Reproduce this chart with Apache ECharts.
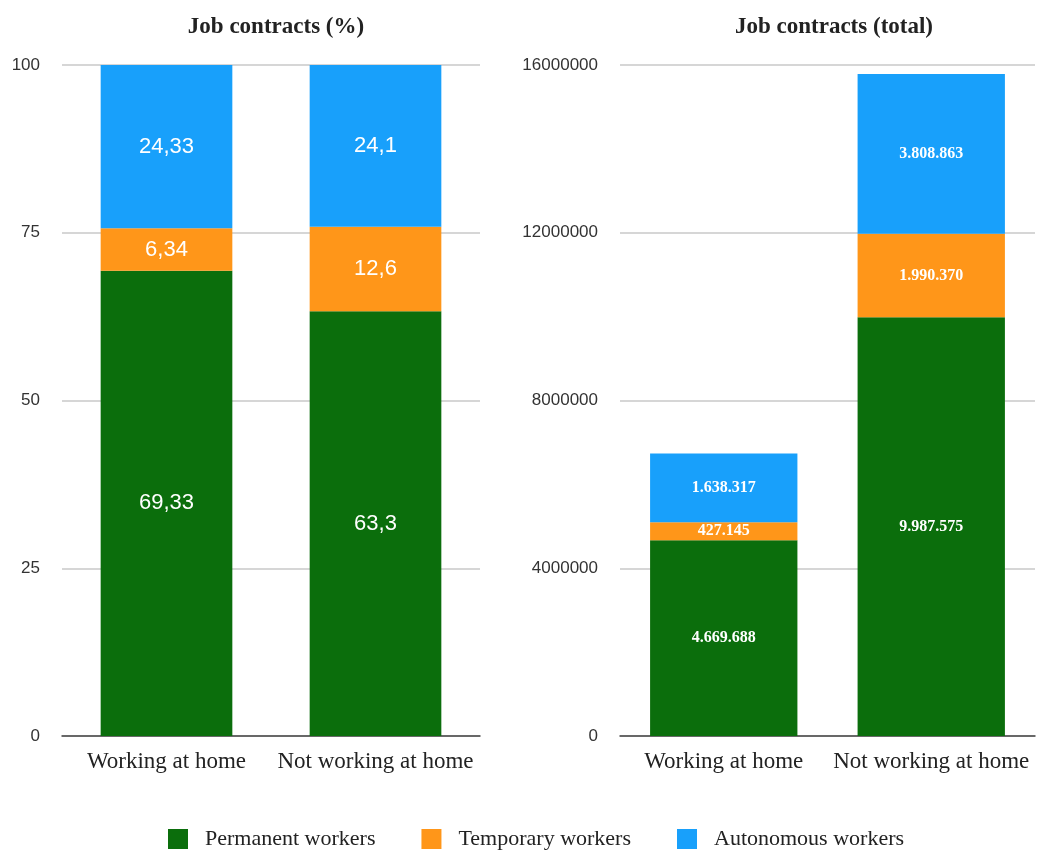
<!DOCTYPE html>
<html>
<head>
<meta charset="utf-8">
<script src="https://cdn.jsdelivr.net/npm/echarts@6/dist/echarts.min.js"></script>
<style>
  html, body { margin: 0; padding: 0; background: #fff; }
  #chart { width: 1039px; height: 851px; }
</style>
</head>
<body>
<div id="chart"></div>
<script>
// Job contracts by working place
const categories = ['Working at home', 'Not working at home'];
const seriesNames = ['Permanent workers', 'Temporary workers', 'Autonomous workers'];

// Shares (%)
const permanentPct = [69.33, 63.3];
const temporaryPct = [6.34, 12.6];
const autonomousPct = [24.33, 24.1];

// Totals (people)
const permanentTotal = [4669688, 9987575];
const temporaryTotal = [427145, 1990370];
const autonomousTotal = [1638317, 3808863];

const pctTicks = { min: 0, max: 100, interval: 25 };
const totalTicks = { min: 0, max: 16000000, interval: 4000000 };

const colors = ['#0b6e0c', '#ff9619', '#18a0fb'];
const serif = '"Liberation Serif", "DejaVu Serif", serif';
const sans = '"Liberation Sans", Arial, sans-serif';

const fmtPct = v => String(v).replace('.', ',');
const fmtTotal = v => String(v).replace(/\B(?=(\d{3})+(?!\d))/g, '.');

const pctData = [permanentPct, temporaryPct, autonomousPct];
const totalData = [permanentTotal, temporaryTotal, autonomousTotal];

const series = [];
seriesNames.forEach((name, i) => {
  series.push({
    name, type: 'bar', stack: 'pct', xAxisIndex: 0, yAxisIndex: 0,
    data: pctData[i], barWidth: '63%',
    itemStyle: { color: colors[i] },
    label: {
      show: true, position: 'inside', color: '#fff',
      fontFamily: sans, fontSize: 22,
      formatter: p => fmtPct(p.value)
    }
  });
});
seriesNames.forEach((name, i) => {
  series.push({
    name, type: 'bar', stack: 'total', xAxisIndex: 1, yAxisIndex: 1,
    data: totalData[i], barWidth: '71%',
    itemStyle: { color: colors[i] },
    label: {
      show: true, position: 'inside', color: '#fff',
      fontFamily: serif, fontWeight: 'bold', fontSize: 16,
      formatter: p => fmtTotal(p.value)
    }
  });
});

const xAxisCommon = {
  type: 'category', data: categories,
  axisTick: { show: false },
  axisLine: { lineStyle: { color: '#444', width: 1.5 } },
  axisLabel: { fontFamily: serif, fontSize: 23, color: '#222', margin: 14, interval: 0 }
};
const yAxisCommon = {
  type: 'value',
  axisLine: { show: false }, axisTick: { show: false },
  splitLine: { lineStyle: { color: '#c8c8c8', width: 1.5 } },
  axisLabel: { fontFamily: sans, fontSize: 17, color: '#333', margin: 22, formatter: v => String(v) }
};

const chart = echarts.init(document.getElementById('chart'), null, { renderer: 'canvas' });
chart.setOption({
  backgroundColor: '#fff',
  animation: false,
  title: [
    { text: 'Job contracts (%)', left: 271, top: 11, textAlign: 'center',
      textStyle: { fontFamily: serif, fontWeight: 'bold', fontSize: 23, color: '#222' } },
    { text: 'Job contracts (total)', left: 829, top: 11, textAlign: 'center',
      textStyle: { fontFamily: serif, fontWeight: 'bold', fontSize: 23, color: '#222' } }
  ],
  legend: {
    data: seriesNames, top: 823, left: 163,
    icon: 'rect', itemWidth: 20, itemHeight: 20, itemGap: 46,
    textStyle: { fontFamily: serif, fontSize: 22, color: '#222', padding: [0, 0, 0, 12] }
  },
  grid: [
    { left: 62, right: 559, top: 65, bottom: 115 },
    { left: 620, right: 4, top: 65, bottom: 115 }
  ],
  xAxis: [
    Object.assign({ gridIndex: 0 }, xAxisCommon),
    Object.assign({ gridIndex: 1 }, xAxisCommon)
  ],
  yAxis: [
    Object.assign({ gridIndex: 0 }, yAxisCommon, pctTicks),
    Object.assign({ gridIndex: 1 }, yAxisCommon, totalTicks)
  ],
  series
});
</script>
</body>
</html>
